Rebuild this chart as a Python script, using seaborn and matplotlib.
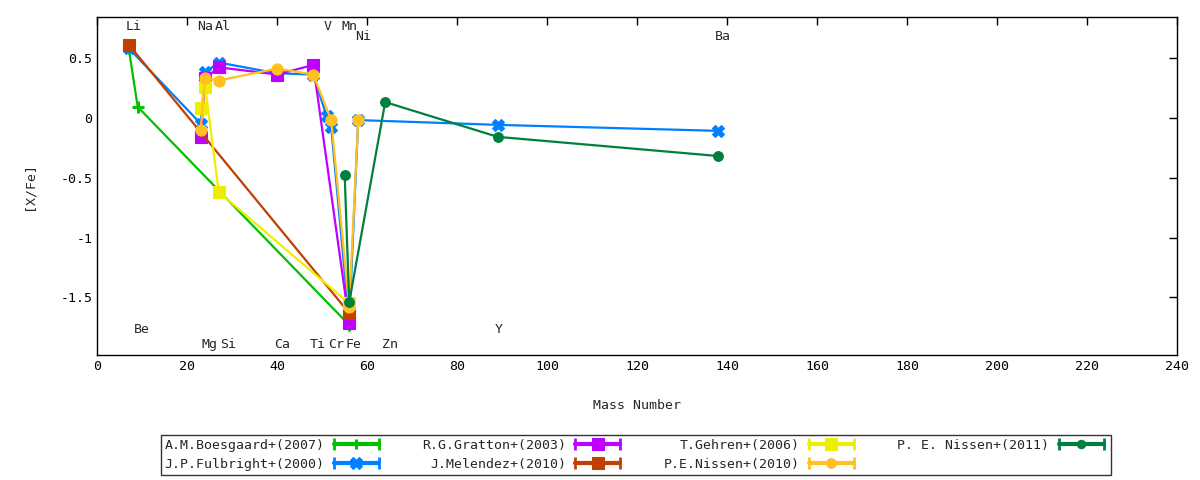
import pandas as pd
import matplotlib
matplotlib.use("Agg")
import matplotlib.pyplot as plt
from matplotlib.lines import Line2D
from matplotlib.legend_handler import HandlerLine2D, HandlerTuple
import seaborn as sns

# abundance surveys: mass number vs [X/Fe]
boes_mass = [7, 9, 56]
boes_xfe = [0.58, 0.09, -1.73]

fulb_mass = [7, 23, 24, 27, 40, 48, 51, 52, 56, 58, 89, 138]
fulb_xfe = [0.58, -0.05, 0.38, 0.46, 0.37, 0.36, 0.01, -0.08, -1.70, -0.02, -0.06, -0.11]

grat_mass = [23, 24, 27, 40, 48, 56]
grat_xfe = [-0.16, 0.33, 0.42, 0.36, 0.44, -1.71]

mele_mass = [7, 56]
mele_xfe = [0.61, -1.63]

gehr_mass = [23, 24, 27, 56]
gehr_xfe = [0.08, 0.26, -0.62, -1.55]

nis10_mass = [23, 24, 27, 40, 48, 52, 56, 58]
nis10_xfe = [-0.10, 0.33, 0.31, 0.41, 0.36, -0.02, -1.58, -0.02]

nis11_mass = [55, 56, 64, 89, 138]
nis11_xfe = [-0.48, -1.54, 0.13, -0.16, -0.32]

surveys = ["A.M.Boesgaard+(2007)", "J.P.Fulbright+(2000)", "R.G.Gratton+(2003)",
           "J.Melendez+(2010)", "T.Gehren+(2006)", "P.E.Nissen+(2010)",
           "P. E. Nissen+(2011)"]
masses = [boes_mass, fulb_mass, grat_mass, mele_mass, gehr_mass, nis10_mass, nis11_mass]
values = [boes_xfe, fulb_xfe, grat_xfe, mele_xfe, gehr_xfe, nis10_xfe, nis11_xfe]

colors = ["#00c000", "#0080ff", "#c000ff", "#c04000", "#eeee00", "#ffc020", "#008040"]
markers = ["+", "X", "s", "s", "s", "o", "o"]
msizes = [8, 9, 9, 9, 9, 8, 7]

# element labels
elem_names = ["Li", "Na", "Al", "V", "Mn", "Ni", "Ba",
              "Be", "Y", "Mg", "Si", "Ca", "Ti", "Cr", "Fe", "Zn"]
elem_mass = [7, 23, 27, 51, 55, 58, 138, 9, 89, 24, 28, 40, 48, 52, 56, 64]
elem_y = [0.76, 0.76, 0.76, 0.76, 0.76, 0.675, 0.675,
          -1.77, -1.77, -1.89, -1.89, -1.89, -1.89, -1.89, -1.89, -1.89]

xticks = list(range(0, 241, 20))
yticks = [-1.5, -1, -0.5, 0, 0.5]
ytick_labels = ["-1.5", "-1", "-0.5", "0", "0.5"]

sns.set_style("white")
plt.rcParams["font.family"] = ["DejaVu Sans Mono"]
plt.rcParams["font.size"] = 9.5
plt.rcParams["xtick.direction"] = "in"
plt.rcParams["ytick.direction"] = "in"

frames = []
for name, m, v in zip(surveys, masses, values):
    frames.append(pd.DataFrame({"mass": m, "xfe": v, "survey": name}))
df = pd.concat(frames, ignore_index=True)

fig = plt.figure(figsize=(12, 4.8), dpi=100)
ax = fig.add_axes([0.081, 0.2604, 0.9, 0.7042])

for name, c, mk, ms in zip(surveys, colors, markers, msizes):
    sub = df[df["survey"] == name]
    sns.lineplot(data=sub, x="mass", y="xfe", sort=False, color=c, marker=mk,
                 markersize=ms, markeredgecolor=c,
                 markeredgewidth=2.2 if mk == "+" else 0.8,
                 linewidth=1.6, ax=ax, legend=False)

for n, m, y in zip(elem_names, elem_mass, elem_y):
    ax.annotate(n, (m, y), xytext=(-2.5, 0), textcoords="offset points",
                ha="left", va="center", fontsize=9.5)

ax.set_xlim(0, 240)
ax.set_ylim(-1.98, 0.84)
ax.set_xticks(xticks)
ax.set_yticks(yticks)
ax.set_yticklabels(ytick_labels)
ax.tick_params(top=True, right=True, length=6, width=1, colors="black", labelsize=9.5)
for s in ax.spines.values():
    s.set_color("black")
    s.set_linewidth(1)
ax.set_xlabel("Mass Number", labelpad=19)
ax.set_ylabel("[X/Fe]", labelpad=18)

# gnuplot-style legend samples: line with end caps and a centre marker
handles = []
hmap = {tuple: HandlerTuple(ndivide=1, pad=0)}
for c, mk, ms in zip(colors, markers, msizes):
    cap = Line2D([], [], color=c, lw=3, marker="|", ms=9, mew=2)
    mid = Line2D([], [], color=c, lw=0, marker=mk, ms=ms - 1, mec=c,
                 mew=2.2 if mk == "+" else 0.8)
    hmap[cap] = HandlerLine2D(numpoints=2)
    handles.append((cap, mid))

leg = fig.legend(handles, surveys, handler_map=hmap, ncol=4, markerfirst=False,
                 loc="center", bbox_to_anchor=(0.53, 0.052), frameon=True,
                 fancybox=False, edgecolor="black", handlelength=4.0,
                 columnspacing=3.0, handletextpad=0.4, borderpad=0.3,
                 labelspacing=0.45, fontsize=9.5)
leg.get_frame().set_linewidth(1)

fig.savefig("out.png", dpi=100)
